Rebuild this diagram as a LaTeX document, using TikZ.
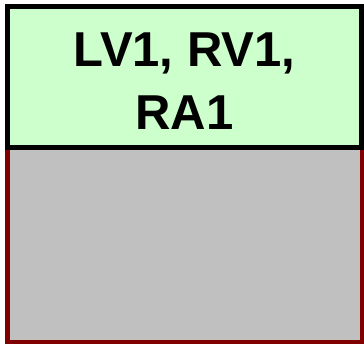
\documentclass[tikz,border=0pt]{standalone}
\usepackage{fontspec}
\setmainfont{Liberation Sans}
\definecolor{paneGreen}{HTML}{CCFFCC}
\definecolor{paneGray}{HTML}{C0C0C0}
\definecolor{paneRed}{HTML}{800000}
\begin{document}
\begin{tikzpicture}[x=1pt,y=1pt,
  panel/.style={rectangle, inner sep=0pt, outer sep=0pt},
  labelpane/.style={panel, fill=paneGreen, draw=black, line width=5pt},
  bodypane/.style={panel, fill=paneGray, draw=paneRed, line width=4.5pt},
  title/.style={inner sep=0pt, align=center, font=\bfseries\fontsize{49}{63}\selectfont}]
  \useasboundingbox (0,0) rectangle (364,-344);
  % lower grey body
  \node[bodypane, minimum width=354.5pt, minimum height=194pt] (body) at (184.75,-245) {};
  % upper green label pane
  \node[labelpane, minimum width=354pt, minimum height=141.5pt] (head) at (184.5,-77.25) {};
  \node[title] (name) at (184.5,-81) {LV1, RV1,\\RA1};
\end{tikzpicture}
\end{document}
